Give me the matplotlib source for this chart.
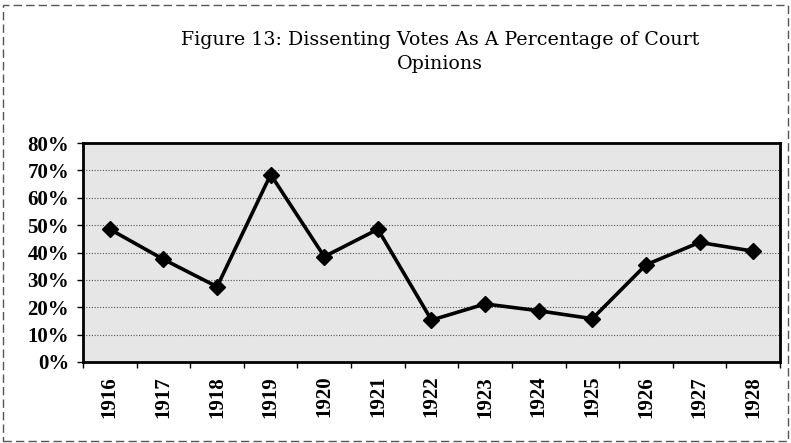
import matplotlib
matplotlib.use("Agg")
import matplotlib.pyplot as plt
from matplotlib.patches import Rectangle
from matplotlib.ticker import FixedLocator, PercentFormatter

years = ["1916", "1917", "1918", "1919", "1920", "1921", "1922",
         "1923", "1924", "1925", "1926", "1927", "1928"]
dissent_pct = [48.5, 37.5, 27.5, 68.5, 38.5, 48.5, 15.3,
               21.2, 18.7, 15.8, 35.5, 43.7, 40.5]
y_ticks = [0, 10, 20, 30, 40, 50, 60, 70, 80]
title = "Figure 13: Dissenting Votes As A Percentage of Court\nOpinions"

plt.rcParams['font.family'] = ['DejaVu Serif']
tick_font = {"family": ["Liberation Serif", "DejaVu Serif"], "weight": "bold", "size": 15}

fig = plt.figure(figsize=(7.91, 4.43), dpi=100)
fig.patch.set_facecolor("white")
ax = fig.add_axes([0.105, 0.183, 0.881, 0.494])
ax.set_facecolor("#e6e6e6")

x = list(range(len(years)))
ax.plot(x, dissent_pct, color="black", linewidth=2.6, marker="D",
        markersize=8.5, markerfacecolor="black", markeredgecolor="black",
        zorder=3)

ax.set_xlim(-0.5, len(years) - 0.5)
ax.set_ylim(0, 80)
ax.yaxis.set_major_locator(FixedLocator(y_ticks))
ax.yaxis.set_major_formatter(PercentFormatter(decimals=0))
ax.set_xticks(x)
ax.set_xticklabels(years, rotation=90, fontdict=tick_font)
ax.tick_params(axis="x", which="major", length=0, pad=10)
ax.set_xticks([i - 0.5 for i in range(len(years) + 1)], minor=True)
ax.tick_params(axis="x", which="minor", length=4, width=1, direction="out")
ax.tick_params(axis="y", length=4, width=1, direction="out", pad=6)
ax.set_yticks(y_ticks)
ax.set_yticklabels([f"{v}%" for v in y_ticks], fontdict=tick_font)

ax.grid(axis="y", color="#555555", linestyle=(0, (1, 1.5)), linewidth=0.8, zorder=1)
ax.set_axisbelow(True)
for s in ax.spines.values():
    s.set_linewidth(2)
    s.set_color("black")

fig.text(0.556, 0.93, title, ha="center", va="top", fontsize=13.7,
         linespacing=1.45)

fig.add_artist(Rectangle((0.004, 0.005), 0.992, 0.983, transform=fig.transFigure,
                         fill=False, edgecolor="#555555", linewidth=1.0,
                         linestyle=(0, (6, 3))))

fig.savefig("out.png", dpi=100)
